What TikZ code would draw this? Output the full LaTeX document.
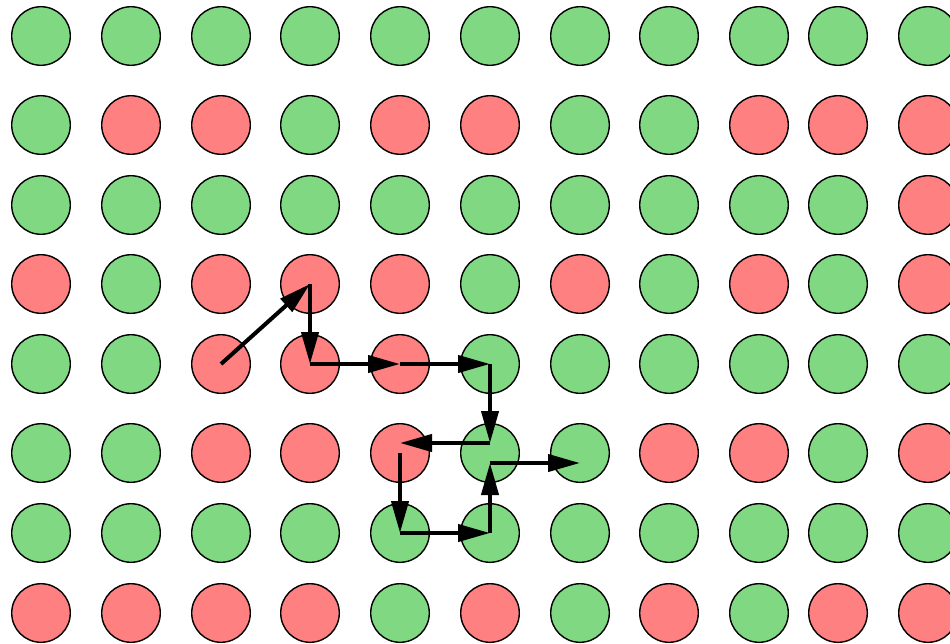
\documentclass[tikz,border=0pt]{standalone}
\usepackage{xcolor}
\usepackage{tikz}
\usetikzlibrary{arrows.meta,positioning,calc}

\definecolor{dotgreen}{RGB}{128,217,130}
\definecolor{dotred}{RGB}{255,128,128}

\begin{document}
\begin{tikzpicture}

    % Styles for the grid and the walk
    \tikzset{
        dot/.style={circle, draw=black, line width=0.4pt, minimum size=5.86mm, inner sep=0pt},
        dotG/.style={dot, fill=dotgreen},
        dotR/.style={dot, fill=dotred},
        move/.style={-{Triangle[length=3.2mm,width=1.7mm]}, line width=1.15pt, black}
    }

    \useasboundingbox (0,0) rectangle (9.5,6.43);

    % Grid of cells, one row per line
    \foreach \y/\cols [count=\r] in {
        6.07/{G,G,G,G,G,G,G,G,G,G,G},
        5.18/{G,R,R,G,R,R,G,G,R,R,R},
        4.38/{G,G,G,G,G,G,G,G,G,G,R},
        3.59/{R,G,R,R,R,G,R,G,R,G,R},
        2.79/{G,G,R,R,R,G,G,G,G,G,G},
        1.90/{G,G,R,R,R,G,G,R,R,G,R},
        1.10/{G,G,G,G,G,G,G,G,G,G,G},
        0.30/{R,R,R,R,G,R,G,R,G,R,R}}{
        \foreach \c [count=\k] in \cols {
            \pgfmathsetmacro{\xx}{{0.41,1.31,2.21,3.10,4.00,4.90,5.80,6.69,7.59,8.38,9.28}[\k-1]}
            \node[dot\c] (c\r-\k) at (\xx,\y) {};
        }
    }

    % Turning points beside the cell centres
    \coordinate (turnA) at ($(c6-6.center)+(0,0.10)$);
    \coordinate (turnB) at ($(c6-5.center)+(0,0.10)$);
    \coordinate (turnC) at ($(c6-6.center)+(0,-0.10)$);
    \coordinate (turnD) at ($(c6-7.center)+(0,-0.10)$);

    % The walk
    \foreach \a/\b in {c5-3/c4-4, c4-4/c5-4, c5-4/c5-5, c5-5/c5-6, c5-6/turnA, turnA/turnB,
                       c6-5/c7-5, c7-5/c7-6, c7-6/turnC, turnC/turnD}
        \draw[move] (\a.center) -- (\b.center);

\end{tikzpicture}
\end{document}
